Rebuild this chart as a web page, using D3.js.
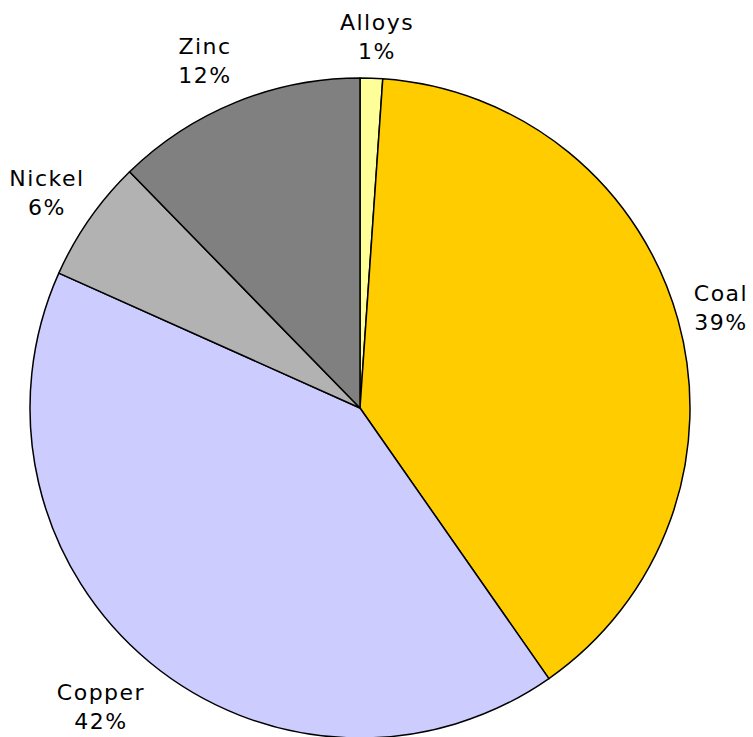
<!DOCTYPE html>
<html><head><meta charset="utf-8">
<script src="https://cdn.jsdelivr.net/npm/d3@7"></script>
<style>body{margin:0;background:#fff}svg{display:block}text{font-family:"DejaVu Sans",Verdana,sans-serif;font-size:22px;fill:#000;letter-spacing:1.5px}</style>
</head><body><svg id="c" width="753" height="737"></svg>
<script>
const categories = ["Alloys","Coal","Copper","Nickel","Zinc"];
const values = [1.1, 39.2, 41.4, 6.0, 12.3];
const labels = ["1%","39%","42%","6%","12%"];
const colors = ["#FFFF99","#FFCC00","#CCCCFF","#B2B2B2","#808080"];
const labelPos = [[377,30],[721,301],[101,700],[47,186],[205,54]];

const svg = d3.select("#c");
const cx = 360, cy = 408, r = 330;
const pie = d3.pie().sort(null).value(d=>d)(values);
const arc = d3.arc().innerRadius(0).outerRadius(r);
const g = svg.append("g").attr("transform",`translate(${cx},${cy})`);
g.selectAll("path").data(pie).enter().append("path")
  .attr("d",arc).attr("fill",(d,i)=>colors[i])
  .attr("stroke","#000").attr("stroke-width",1.5).attr("stroke-linejoin","round");
const lg = svg.append("g");
categories.forEach((c,i)=>{
  const t = lg.append("text").attr("text-anchor","middle")
    .attr("x",labelPos[i][0]).attr("y",labelPos[i][1]);
  t.append("tspan").attr("x",labelPos[i][0]).text(c);
  t.append("tspan").attr("x",labelPos[i][0]).attr("dy",29).text(labels[i]);
});
</script></body></html>
